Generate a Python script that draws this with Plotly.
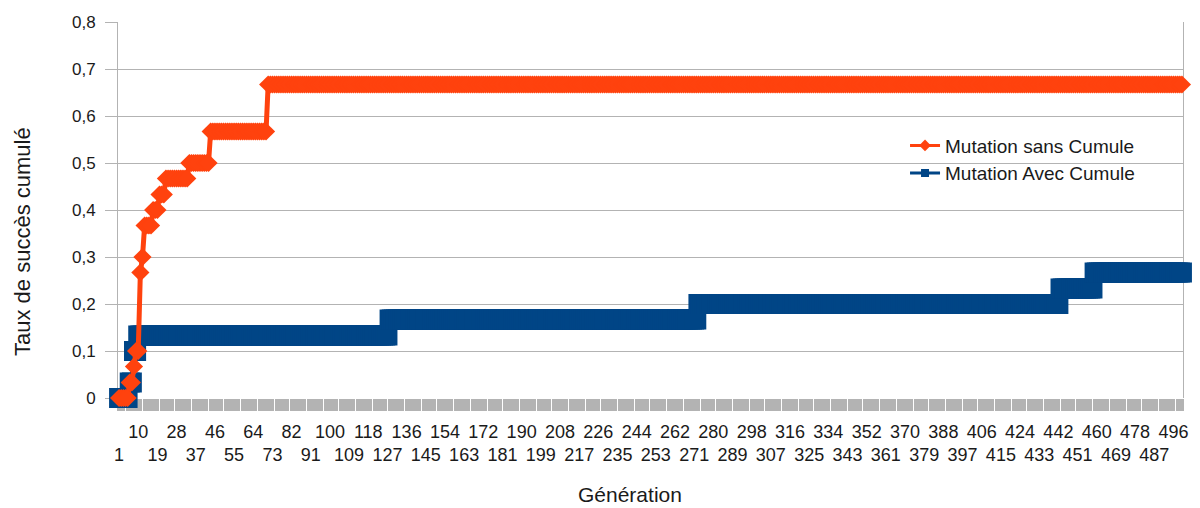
import plotly.graph_objects as go

# ---- data ----
n_generations = 500
generations = list(range(1, n_generations + 1))

# step functions: generation where a new cumulated value starts, and the value
sans_start = [1, 6, 8, 9, 11, 12, 13, 17, 20, 23, 34, 44, 71]
sans_value = [0, 0.033, 0.067, 0.1, 0.267, 0.3, 0.367, 0.4, 0.433, 0.467, 0.5, 0.567, 0.667]

avec_start = [1, 6, 8, 10, 128, 273, 443, 459]
avec_value = [0, 0.033, 0.1, 0.133, 0.167, 0.2, 0.233, 0.267]

series_names = ["Mutation sans Cumule", "Mutation Avec Cumule"]

tick_values = list(range(1, n_generations + 1, 9))
y_ticks = [0, 0.1, 0.2, 0.3, 0.4, 0.5, 0.6, 0.7, 0.8]


def expand(starts, values, n):
    out = []
    for g in range(1, n + 1):
        v = values[0]
        for s, val in zip(starts, values):
            if g >= s:
                v = val
        out.append(v)
    return out


sans = expand(sans_start, sans_value, n_generations)
avec = expand(avec_start, avec_value, n_generations)

ORANGE = "#ff420e"
BLUE = "#004586"
GRID = "#b3b3b3"
FONT = "Liberation Sans"
TXT = "#1a1a1a"

# staggered tick labels: even index on lower row, odd index on upper row
tick_text = [("<br>" + str(v)) if i % 2 == 0 else str(v) for i, v in enumerate(tick_values)]

fig = go.Figure()

# real series (blue first so orange is drawn above)
fig.add_trace(go.Scatter(
    x=generations, y=avec, mode="lines+markers", name=series_names[1],
    line=dict(color=BLUE, width=5), marker=dict(symbol="square", size=20, color=BLUE),
    cliponaxis=False, showlegend=False, hoverinfo="skip"))
fig.add_trace(go.Scatter(
    x=generations, y=sans, mode="lines+markers", name=series_names[0],
    line=dict(color=ORANGE, width=5), marker=dict(symbol="diamond", size=14, color=ORANGE),
    cliponaxis=False, showlegend=False, hoverinfo="skip"))

# legend entries
fig.add_trace(go.Scatter(
    x=[None], y=[None], mode="lines+markers", name=series_names[0],
    line=dict(color=ORANGE, width=3), marker=dict(symbol="diamond", size=9, color=ORANGE)))
fig.add_trace(go.Scatter(
    x=[None], y=[None], mode="lines+markers", name=series_names[1],
    line=dict(color=BLUE, width=3), marker=dict(symbol="square", size=8, color=BLUE)))

fig.update_layout(
    width=1200, height=508,
    margin=dict(l=118, r=17, t=22, b=110, autoexpand=False),
    paper_bgcolor="white", plot_bgcolor="white",
    separators=", ",
    font=dict(family=FONT, color=TXT, size=16),
    showlegend=True,
    legend=dict(x=0.739, y=0.722, xanchor="left", yanchor="top",
                bgcolor="rgba(0,0,0,0)", font=dict(size=19, color=TXT),
                itemwidth=30, tracegroupgap=0),
    xaxis=dict(
        range=[0.5, n_generations + 0.5], showgrid=False, zeroline=False,
        tickmode="array", tickvals=tick_values, ticktext=tick_text,
        ticks="", tickangle=0, tickfont=dict(size=18, color=TXT),
        ticklabelstandoff=21,
        minor=dict(ticks="outside", ticklen=12, tickwidth=2, tickcolor=GRID,
                   tick0=0.5, dtick=1, showgrid=False),
        showline=False, layer="below traces", fixedrange=True, automargin=False,
    ),
    yaxis=dict(
        range=[0, 0.8], tickmode="array", tickvals=y_ticks,
        showgrid=True, gridcolor=GRID, gridwidth=1, zeroline=False,
        ticks="outside", ticklen=12, tickcolor=GRID, tickwidth=1,
        showline=True, linecolor=GRID, linewidth=1, mirror=True,
        tickfont=dict(size=17, color=TXT), ticklabelstandoff=6,
        layer="below traces", fixedrange=True, automargin=False,
    ),
    annotations=[
        dict(text="Taux de succès cumulé", xref="paper", yref="paper",
             x=(22 - 118) / 1065, y=(398 - 242) / 376, xanchor="center", yanchor="middle",
             textangle=-90, showarrow=False, font=dict(size=22, color=TXT)),
        dict(text="Génération", xref="paper", yref="paper",
             x=(630 - 118) / 1065, y=-(495 - 398) / 376, xanchor="center", yanchor="middle",
             showarrow=False, font=dict(size=21, color=TXT)),
    ],
)

fig.write_html(
    "out.html",
    config={"displayModeBar": False, "staticPlot": True},
    post_script="document.body.style.margin='0';document.body.style.padding='0';"
                "document.body.style.overflow='hidden';",
)
